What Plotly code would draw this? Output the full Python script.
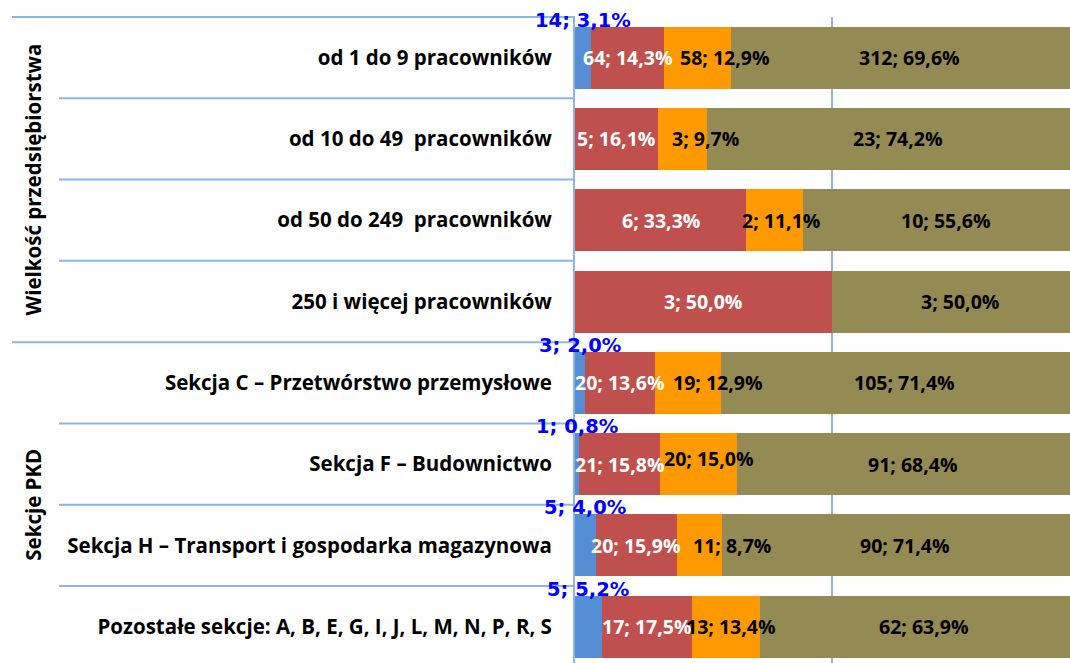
import plotly.graph_objects as go

# ---------------- data ----------------
categories = [
    "od 1 do 9 pracowników",
    "od 10 do 49  pracowników",
    "od 50 do 249  pracowników",
    "250 i więcej pracowników",
    "Sekcja C – Przetwórstwo przemysłowe",
    "Sekcja F – Budownictwo",
    "Sekcja H – Transport i gospodarka magazynowa",
    "Pozostałe sekcje: A, B, E, G, I, J, L, M, N, P, R, S",
]
groups = ["Wielkość przedsiębiorstwa", "Sekcje PKD"]
group_sizes = [4, 4]

blue_n = [14, 0, 0, 0, 3, 1, 5, 5]
blue_pct = [3.1, 0, 0, 0, 2.0, 0.8, 4.0, 5.2]
red_n = [64, 5, 6, 3, 20, 21, 20, 17]
red_pct = [14.3, 16.1, 33.3, 50.0, 13.6, 15.8, 15.9, 17.5]
orange_n = [58, 3, 2, 0, 19, 20, 11, 13]
orange_pct = [12.9, 9.7, 11.1, 0, 12.9, 15.0, 8.7, 13.4]
olive_n = [312, 23, 10, 3, 105, 91, 90, 62]
olive_pct = [69.6, 74.2, 55.6, 50.0, 71.4, 68.4, 71.4, 63.9]

# ---------------- style ----------------
W, H = 1070, 663
L_MARGIN, T_MARGIN = 575, 17
X_RANGE = [0, 96.4]
Y_RANGE = [7.447, -0.5]
BAR_W = 0.763
LINE_COLOR = "#8EB4E3"
colors = ["#558ED5", "#C0504D", "#FF9900", "#948A54"]
label_colors = ["#0000FF", "white", "black", "black"]
FONT = "Open Sans"
orange_dx = [28, 23, 7, 0, 30, 10, 32, 5]
orange_dy = [0, 0, 0, 0, 0, 6, 0, 0]

series = [
    (blue_n, blue_pct),
    (red_n, red_pct),
    (orange_n, orange_pct),
    (olive_n, olive_pct),
]

y_idx = list(range(len(categories)))

fig = go.Figure()
for (n, p), c in zip(series, colors):
    fig.add_trace(go.Bar(
        y=y_idx, x=p, orientation="h", width=BAR_W,
        marker=dict(color=c, line=dict(width=0)),
        hoverinfo="skip", showlegend=False,
    ))


def fmt(n, p):
    return f"{n}; {p:.1f}%".replace(".", ",")


annotations = []
for i in y_idx:
    start = 0.0
    for s, ((n, p), lc) in enumerate(zip(series, label_colors)):
        if n[i] > 0:
            xc = start + p[i] / 2
            if s == 0:
                annotations.append(dict(
                    x=xc, y=i - BAR_W / 2, xref="x", yref="y",
                    text=fmt(n[i], p[i]), showarrow=False,
                    xanchor="center", yanchor="bottom", yshift=-7,
                    font=dict(family="DejaVu Sans", size=19.5, color=lc, weight="bold"),
                ))
            else:
                dx = orange_dx[i] if s == 2 else 0
                dy = orange_dy[i] if s == 2 else 0
                annotations.append(dict(
                    x=xc, y=i, xref="x", yref="y",
                    text=fmt(n[i], p[i]), showarrow=False,
                    xanchor="center", yanchor="middle", xshift=dx, yshift=dy,
                    font=dict(family=FONT, size=19.5, color=lc, weight="bold"),
                ))
        start += p[i]

plot_w = W - L_MARGIN
plot_h = H - T_MARGIN


def xpaper(px):
    return (px - L_MARGIN) / plot_w


def ypaper(v):
    return (Y_RANGE[0] - v) / (Y_RANGE[0] - Y_RANGE[1])


shapes = []
pos = 0
for g, size in zip(groups, group_sizes):
    shapes.append(dict(type="line", xref="paper", yref="paper",
                       x0=xpaper(12), x1=0, y0=ypaper(pos - 0.5), y1=ypaper(pos - 0.5),
                       line=dict(color=LINE_COLOR, width=2)))
    for k in range(1, size):
        yy = ypaper(pos + k - 0.5)
        shapes.append(dict(type="line", xref="paper", yref="paper",
                           x0=xpaper(59), x1=0, y0=yy, y1=yy,
                           line=dict(color=LINE_COLOR, width=2)))
    annotations.append(dict(
        x=xpaper(33), y=pos + (size - 1) / 2, xref="paper", yref="y",
        text=g, showarrow=False, textangle=-90,
        xanchor="center", yanchor="middle",
        font=dict(family=FONT, size=20.5, color="black", weight="bold"),
    ))
    pos += size

fig.update_layout(
    barmode="stack",
    width=W, height=H,
    margin=dict(l=L_MARGIN, r=0, t=T_MARGIN, b=0, pad=0),
    paper_bgcolor="white", plot_bgcolor="white",
    annotations=annotations, shapes=shapes,
    xaxis=dict(range=X_RANGE, tickvals=[50], showticklabels=False, ticks="",
               showgrid=True, gridcolor=LINE_COLOR, gridwidth=2,
               zeroline=False, showline=False, fixedrange=True),
    yaxis=dict(range=Y_RANGE, tickvals=y_idx, ticktext=categories, ticks="",
               showgrid=False, zeroline=False, showline=True,
               linecolor=LINE_COLOR, linewidth=2, ticklabelstandoff=17,
               tickfont=dict(family=FONT, size=20.5, color="black", weight="bold"),
               fixedrange=True),
    bargap=0,
)

fig.write_html("out.html", config={"displayModeBar": False},
               post_script="document.body.style.margin='0';document.body.style.overflow='hidden';")
